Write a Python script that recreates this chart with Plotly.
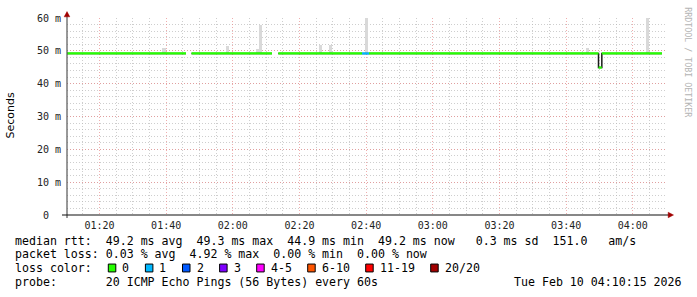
import plotly.graph_objects as go

# ---------------- data ----------------
DAY = "2026-02-10"
x_start, x_end = "01:10:15", "04:10:15"
y_ticks = [0, 10, 20, 30, 40, 50, 60]
y_ticktext = ["0\u00a0\u00a0", "10 m", "20 m", "30 m", "40 m", "50 m", "60 m"]

# median rtt runs (ms) with loss class
run_start = ["01:10:15", "01:47:36", "02:13:38", "02:38:45", "02:40:51", "03:49:42", "03:50:42"]
run_end = ["01:45:57", "02:11:45", "02:38:45", "02:40:51", "03:49:42", "03:50:42", "04:08:45"]
run_value = [49.2, 49.2, 49.2, 49.2, 49.2, 44.9, 49.2]
run_loss = [0, 0, 0, 1, 0, 0, 0]

# smoke spikes (ms)
smoke_time = ["01:39:21", "01:58:24", "02:07:24", "02:08:18", "02:26:18", "02:29:18", "02:40:06", "03:46:18", "04:04:24"]
smoke_min = [48.9, 48.9, 48.9, 48.9, 48.9, 48.9, 48.9, 48.9, 48.9]
smoke_max = [50.8, 51.6, 50.5, 57.9, 51.7, 51.7, 60.0, 51.0, 60.0]

loss_labels = ["0", "1", "2", "3", "4-5", "6-10", "11-19", "20/20"]
loss_colors = ["#26ff00", "#00b8ff", "#0059ff", "#7e00ff", "#ff00ff", "#ff5500", "#ff0000", "#a10000"]

line1_text = "median rtt:  49.2 ms avg  49.3 ms max  44.9 ms min  49.2 ms now   0.3 ms sd  151.0   am/s"
line2_text = "packet loss: 0.03 % avg  4.92 % max  0.00 % min  0.00 % now"
line3_text = "loss color:"
line4_text = "probe:       20 ICMP Echo Pings (56 Bytes) every 60s"
date_text = "Tue Feb 10 04:10:15 2026"

# ---------------- layout helpers ----------------
W, H = 697, 297
L, R, T, B = 67, 667, 15, 215


def px(x):
    return (x - L) / (R - L)


def py(y):
    return (B - y) / (B - T)


def ts(t):
    return f"{DAY} {t}"


MONO = "DejaVu Sans Mono"
fig = go.Figure()

# smoke
fig.add_trace(go.Bar(
    x=[ts(t) for t in smoke_time],
    y=[hi - lo for hi, lo in zip(smoke_max, smoke_min)],
    base=smoke_min, width=60000,
    marker=dict(color="#d9d9d9", line=dict(width=0)),
    hoverinfo="skip", showlegend=False))

# dark step line connecting contiguous runs
dx, dy = [], []
for i in range(len(run_start)):
    if i > 0 and run_start[i] != run_end[i - 1]:
        dx.append(None)
        dy.append(None)
    dx += [ts(run_start[i]), ts(run_end[i])]
    dy += [run_value[i], run_value[i]]
fig.add_trace(go.Scatter(x=dx, y=dy, mode="lines", line=dict(color="#1a1a1a", width=1.5),
                         connectgaps=False, showlegend=False, hoverinfo="skip"))

# colored median segments per loss class
for lc in sorted(set(run_loss)):
    gx, gy = [], []
    for s, e, v, l in zip(run_start, run_end, run_value, run_loss):
        if l == lc:
            gx += [ts(s), ts(e), None]
            gy += [v, v, None]
    fig.add_trace(go.Scatter(x=gx, y=gy, mode="lines", line=dict(color=loss_colors[lc], width=2.2),
                             connectgaps=False, showlegend=False, hoverinfo="skip"))

shapes = []
annotations = []

# axis lines and arrows
shapes.append(dict(type="line", xref="paper", yref="paper", x0=px(67), x1=px(67), y0=py(218), y1=py(11),
                   line=dict(color="#555555", width=1.2), layer="above"))
shapes.append(dict(type="line", xref="paper", yref="paper", x0=px(62), x1=px(670), y0=py(215), y1=py(215),
                   line=dict(color="#111111", width=1.2), layer="above"))
shapes.append(dict(type="path", xref="paper", yref="paper",
                   path=f"M {px(64.2)} {py(13.8)} L {px(67)} {py(8.5)} L {px(69.8)} {py(13.8)} Z",
                   fillcolor="#a10000", line=dict(color="#a10000", width=0.5), layer="above"))
shapes.append(dict(type="path", xref="paper", yref="paper",
                   path=f"M {px(668.2)} {py(212.2)} L {px(673.5)} {py(215)} L {px(668.2)} {py(217.8)} Z",
                   fillcolor="#a10000", line=dict(color="#a10000", width=0.5), layer="above"))


def add_text(text, x, y, size=11.6, color="#000000", font=MONO, angle=0, xanchor="left"):
    annotations.append(dict(text=text.replace(" ", "\u00a0"), x=px(x), y=py(y), xref="paper", yref="paper",
                            xanchor=xanchor, yanchor="middle", showarrow=False, textangle=angle,
                            borderpad=0, borderwidth=0,
                            font=dict(family=font, size=size, color=color)))


add_text(line1_text, 15, 241)
add_text(line2_text, 15, 255)
add_text(line3_text, 15, 269)
add_text(line4_text, 15, 283)
add_text(date_text, 681.5, 283, xanchor="right")

# loss color legend
swatch_x = [108.3, 145.4, 182.5, 219.6, 256.7, 307.7, 365.7, 430.7]
for lab, col, sx in zip(loss_labels, loss_colors, swatch_x):
    shapes.append(dict(type="rect", xref="paper", yref="paper", x0=px(sx), x1=px(sx + 7.5),
                       y0=py(272.8), y1=py(264.8), fillcolor=col, line=dict(color="#000000", width=1)))
    add_text(lab, sx + 14, 269)

# y title and watermark
add_text("Seconds", 11, 114, size=11, font="DejaVu Sans", angle=-90, xanchor="center")
add_text("RRDTOOL / TOBI OETIKER", 688, 60, size=8.3, color="#b4b4b4", angle=90, xanchor="center")

MAJ = "rgba(232,140,140,0.7)"
MIN = "rgba(185,185,185,0.7)"

fig.update_layout(
    width=W, height=H,
    margin=dict(l=L, r=W - R, t=T, b=H - B, pad=0),
    paper_bgcolor="white", plot_bgcolor="white",
    showlegend=False, bargap=0,
    shapes=shapes, annotations=annotations,
    xaxis=dict(range=[ts(x_start), ts(x_end)], type="date",
               tickformat="%H:%M", dtick=20 * 60 * 1000, tick0=f"{DAY} 00:00:00",
               showgrid=True, gridcolor=MAJ, griddash="1px,2px", gridwidth=1,
               minor=dict(dtick=5 * 60 * 1000, showgrid=True, gridcolor=MIN, griddash="1px,2px", gridwidth=1),
               ticks="", showline=False, zeroline=False,
               tickfont=dict(family=MONO, size=10, color="#222222"), ticklabelstandoff=3),
    yaxis=dict(range=[0, 60], tickvals=y_ticks, ticktext=y_ticktext,
               showgrid=True, gridcolor=MAJ, griddash="1px,2px", gridwidth=1,
               minor=dict(dtick=2, showgrid=True, gridcolor=MIN, griddash="1px,2px", gridwidth=1),
               ticks="", showline=False, zeroline=False,
               tickfont=dict(family=MONO, size=10, color="#222222"), ticklabelstandoff=5),
)

fig.write_html("out.html")
